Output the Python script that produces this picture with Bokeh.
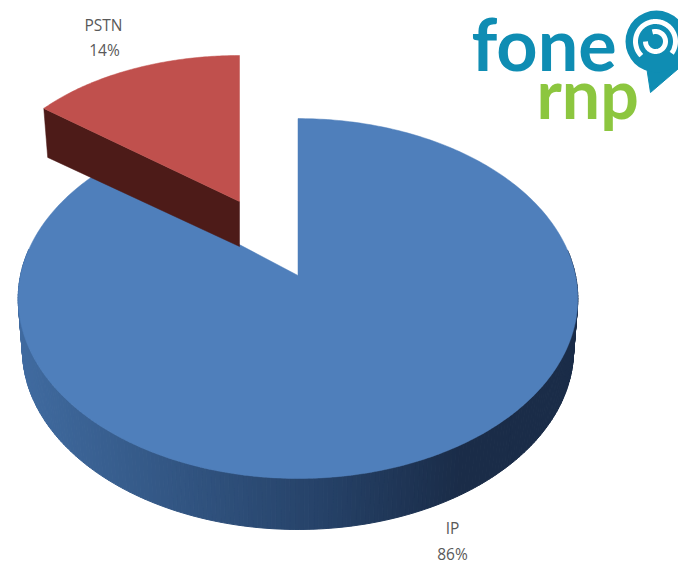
import numpy as np
from bokeh.plotting import figure
from bokeh.models import Range1d
from bokeh.core.properties import value
from bokeh.embed import file_html
from bokeh.resources import INLINE

categories = ["IP", "PSTN"]
shares = [86, 14]
share_labels = ["86%", "14%"]

BLUE, RED, RED_DARK = "#4f7fbb", "#c0504d", "#4d1b18"
SIDE_L, SIDE_M, SIDE_R = (64, 107, 160), (38, 66, 104), (26, 44, 72)
LABEL = "#595959"
TEAL, GREEN = "#0f8db3", "#8cc63f"

p = figure(width=678, height=564, x_range=Range1d(0, 678), y_range=Range1d(564, 0),
           output_backend="svg", toolbar_location=None, min_border=0)
p.axis.visible = False
p.grid.visible = False
p.outline_line_color = None
p.background_fill_color = "white"
p.border_fill_color = "white"

# Pie geometry: angle clockwise from 12 o'clock, perspective projection of a disc
CX, CY, RX, RY, K, DEPTH = 297.5, 275.0, 277.5, 177.0, 0.128, 51.0
ip_span = 2 * np.pi * shares[0] / sum(shares)
pstn_span = 2 * np.pi * shares[1] / sum(shares)


def disc(a):
    u, v = np.sin(a), np.cos(a)
    w = 1 + K * v
    return CX + RX * u / w, CY - RY * v / w


# IP: side wall, one shaded strip per small step of the arc
edges = np.linspace(0, ip_span, 361)
xt, yt = disc(edges)
xb = CX + (xt - CX) * 0.985
yb = yt + DEPTH
xs, ys, cols = [], [], []
for i in range(len(edges) - 1):
    if np.cos(edges[i]) > 0.15:
        continue
    xs.append([xt[i], xt[i + 1], xb[i + 1], xb[i]])
    ys.append([yt[i], yt[i + 1], yb[i + 1], yb[i]])
    t = (xt[i] - (CX - RX)) / (2 * RX)
    if t < 0.55:
        c = t / 0.55
        rgb = [SIDE_L[j] + (SIDE_M[j] - SIDE_L[j]) * c for j in range(3)]
    else:
        c = (t - 0.55) / 0.25 if t < 0.8 else 1
        rgb = [SIDE_M[j] + (SIDE_R[j] - SIDE_M[j]) * c for j in range(3)]
    cols.append("#%02x%02x%02x" % tuple(int(v) for v in rgb))
p.patches(xs, ys, fill_color=cols, line_color=cols, line_width=1)

# IP: top surface
a = np.linspace(0, ip_span, 361)
xa, ya = disc(a)
p.patch(np.r_[CX, xa], np.r_[CY, ya], fill_color=BLUE, line_color=BLUE, line_width=0.5)

# PSTN: exploded slice, ends at 12 o'clock, going anticlockwise
AX, AY, SX, SY, SD = 239.0, 201.0, 254.0, 146.0, 46.0
b = np.linspace(0, pstn_span, 91)
xr, yr = AX - SX * np.sin(b), AY - SY * np.cos(b)
lx, ly = xr[-1], yr[-1]
p.patch([AX, lx, AX + (lx - AX) * 0.98, AX], [AY, ly, ly + SD + 3, AY + SD - 1],
        fill_color=RED_DARK, line_color=RED_DARK, line_width=0.5)
p.patch(np.r_[AX, xr], np.r_[AY, yr], fill_color=RED, line_color=RED, line_width=0.5)

# Data labels
font = value("Open Sans")
p.text([103, 104], [24, 49], text=[categories[1], share_labels[1]], text_font=font,
       text_font_size="15.5px", text_color=LABEL, text_align="center", text_baseline="middle")
p.text([452, 452], [527, 553], text=[categories[0], share_labels[0]], text_font=font,
       text_font_size="15.5px", text_color=LABEL, text_align="center", text_baseline="middle")

# Logo
logo_font = value("Lato")
p.text([471], [42], text=["fone"], text_font=logo_font, text_font_size="72px",
       text_font_style="bold", text_color=TEAL, text_baseline="middle")
p.text([536], [92], text=["rnp"], text_font=logo_font, text_font_size="68px",
       text_font_style="bold", text_color=GREEN, text_baseline="middle")
p.patch([646, 650, 678, 678], [66, 92, 68, 55], fill_color=TEAL, line_color=TEAL)
p.scatter([656], [41], size=62, marker="circle", fill_color=TEAL, line_color=None)
t = np.linspace(0.75 * np.pi, 2.2 * np.pi, 80)
p.line(655 + 20 * np.cos(t), 41 + 20 * np.sin(t), line_color="white", line_width=5)
t2 = np.linspace(-0.6 * np.pi, 1.0 * np.pi, 50)
p.line(655 + 10 * np.cos(t2), 41 + 10 * np.sin(t2), line_color="white", line_width=5)

open("out.html", "w").write(file_html(p, INLINE))
